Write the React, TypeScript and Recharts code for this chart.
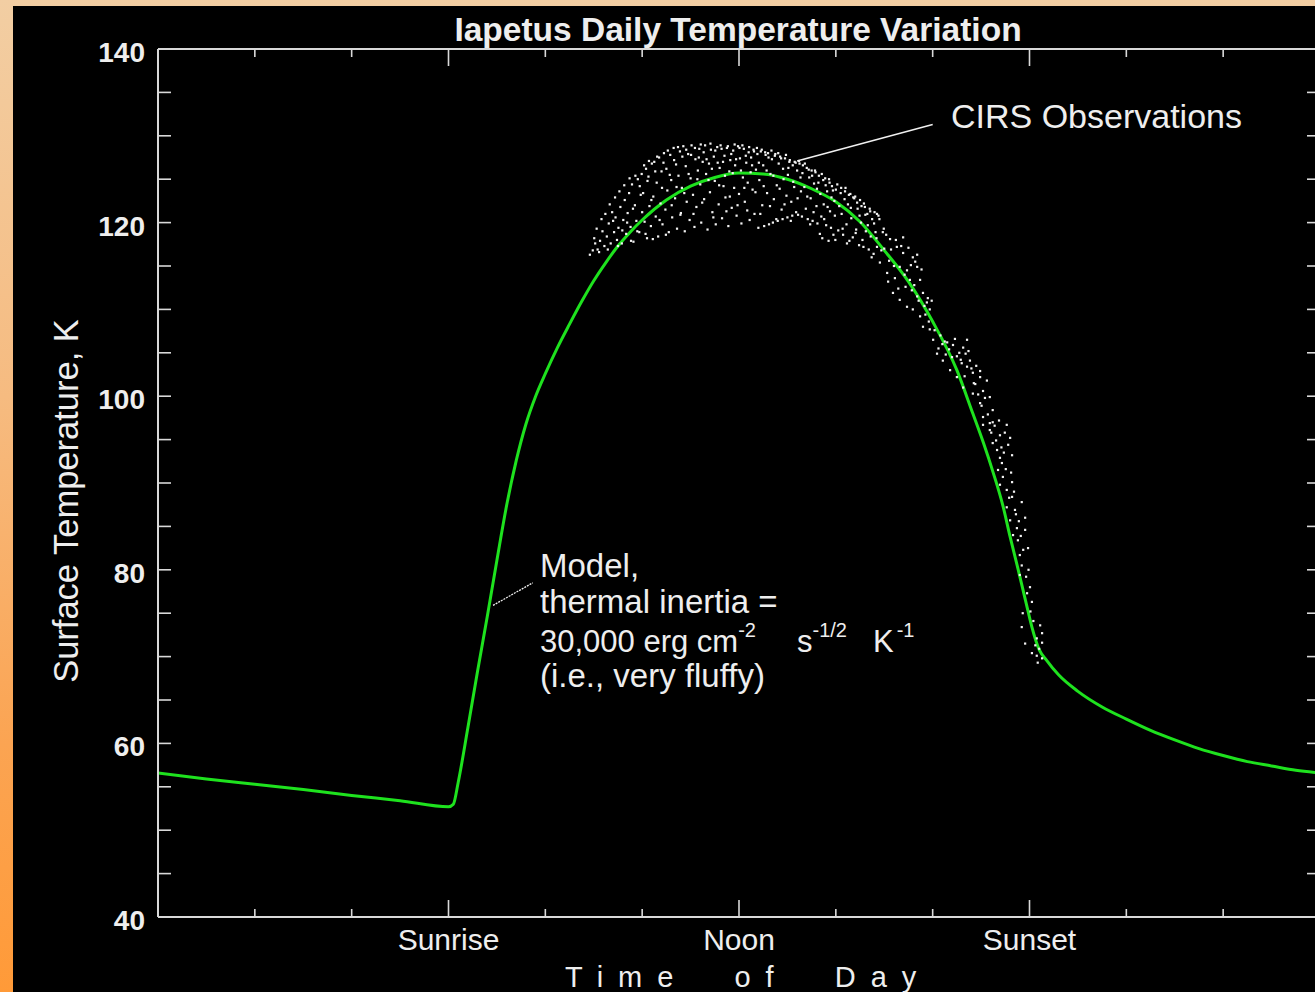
import { ComposedChart, Line, Scatter, XAxis, YAxis, ReferenceLine } from "recharts";

// model curve (thermal inertia 30,000), hour of day -> K
const modelHours = [
  0, 1, 2, 3, 4, 5, 6, 6.1, 6.2, 6.4, 6.6, 6.8, 7, 7.2, 7.4, 7.6, 7.8, 8, 8.25, 8.5, 8.75, 9, 9.25, 9.5,
  9.75, 10, 10.5, 11, 11.5, 12, 12.5, 13, 13.5, 14, 14.5, 15, 15.5, 16, 16.5, 16.83, 17.05, 17.25, 17.45,
  17.6, 17.75, 17.95, 18.05, 18.2, 18.35, 18.6, 19, 19.5, 20, 20.5, 21, 21.5, 22, 22.5, 23, 23.5, 24,
];
const modelTemps = [
  56.6, 55.9, 55.3, 54.7, 54.0, 53.4, 52.7, 53.0, 55.5, 61.8, 68.3, 74.6, 81.1, 87.4, 92.6, 96.8, 100.0,
  102.6, 105.6, 108.3, 110.9, 113.3, 115.4, 117.3, 118.9, 120.3, 122.6, 124.2, 125.2, 125.7, 125.6, 125.0,
  123.9, 122.4, 120.1, 116.8, 113.2, 108.6, 103.0, 98.0, 94.6, 91.2, 87.4, 83.8, 80.4, 75.7, 73.4, 70.8,
  69.6, 67.9, 66.0, 64.2, 62.8, 61.5, 60.4, 59.4, 58.6, 57.9, 57.4, 56.9, 56.6,
];

// CIRS observations [hour, K]
const cirsObs: [number, number][] = [
  [8.92, 116.3], [8.98, 116.8], [9.03, 117.6], [9.08, 116.9], [9.13, 117.9], [9.18, 119.0], [9.22, 117.3],
  [9.27, 118.4], [9.31, 119.9], [9.35, 117.6], [9.38, 121.2], [9.42, 118.9],
  [9.45, 120.6], [9.48, 118.0], [9.51, 119.4], [9.55, 121.8], [9.58, 117.6], [9.61, 120.3], [9.64, 122.6],
  [9.67, 118.7], [9.7, 121.1], [9.73, 123.4], [9.76, 119.5], [9.79, 124.4], [9.82, 117.8], [9.85, 122.0],
  [9.88, 120.2], [9.91, 125.0], [9.94, 118.9], [9.97, 123.2], [9.99, 125.6],
  [10.02, 123.4], [10.05, 120.1], [10.08, 126.2], [10.1, 118.2], [10.13, 125.3], [10.15, 121.9], [10.18, 119.6],
  [10.2, 126.8], [10.23, 123.0], [10.25, 127.0], [10.28, 120.7], [10.3, 124.6], [10.33, 118.4], [10.35, 127.5],
  [10.38, 122.2], [10.4, 125.9], [10.42, 119.8], [10.45, 128.0], [10.48, 121.5], [10.5, 126.2], [10.52, 123.7],
  [10.55, 118.9], [10.58, 127.8], [10.6, 124.9], [10.62, 120.6], [10.65, 128.6], [10.68, 122.8], [10.7, 126.7],
  [10.72, 119.3], [10.75, 125.4], [10.78, 128.2],
  [10.8, 121.1], [10.82, 124.0], [10.85, 128.8], [10.88, 119.0], [10.9, 126.5], [10.92, 122.4], [10.95, 127.9],
  [10.98, 120.3], [11.0, 125.1], [11.02, 128.9], [11.05, 123.2], [11.08, 119.5], [11.1, 127.3], [11.12, 121.8],
  [11.15, 126.0], [11.18, 128.5], [11.2, 124.4], [11.22, 120.0], [11.25, 127.0], [11.28, 122.7], [11.3, 128.9],
  [11.32, 125.6], [11.35, 119.2], [11.38, 126.8], [11.4, 123.5], [11.42, 128.4], [11.45, 121.2], [11.48, 127.6],
  [11.5, 124.8], [11.52, 119.8], [11.55, 128.7], [11.58, 122.1],
  [11.6, 126.3], [11.62, 128.9], [11.65, 120.5], [11.68, 124.2], [11.7, 127.7], [11.72, 122.9], [11.75, 128.6],
  [11.78, 119.6], [11.8, 125.9], [11.82, 127.2], [11.85, 121.7], [11.88, 128.3], [11.9, 124.0], [11.92, 126.6],
  [11.95, 120.8], [11.98, 128.8], [12.0, 123.3], [12.02, 127.4], [12.05, 119.9], [12.08, 125.2], [12.1, 128.5],
  [12.12, 122.4], [12.15, 126.9], [12.18, 124.6], [12.2, 128.1], [12.22, 120.3], [12.25, 127.5], [12.28, 123.8],
  [12.3, 128.4], [12.32, 121.0], [12.35, 126.1], [12.38, 127.9],
  [12.4, 119.4], [12.42, 124.9], [12.45, 128.2], [12.48, 122.0], [12.5, 126.6], [12.52, 119.6], [12.55, 127.8],
  [12.58, 123.4], [12.6, 128.0], [12.62, 119.8], [12.65, 125.6], [12.68, 127.3], [12.7, 120.0], [12.72, 122.7],
  [12.75, 127.9], [12.78, 124.3], [12.8, 120.2], [12.82, 126.8], [12.85, 127.6], [12.88, 121.5], [12.9, 120.4],
  [12.92, 125.0], [12.95, 127.4], [12.98, 123.1], [13.0, 120.6], [13.02, 126.3], [13.05, 127.2], [13.08, 122.4],
  [13.1, 120.8], [13.12, 124.7], [13.15, 127.0], [13.18, 121.2], [13.2, 126.0], [13.22, 120.9], [13.25, 126.8],
  [13.28, 123.6],
  [13.3, 120.7], [13.32, 126.6], [13.35, 124.1], [13.38, 121.6], [13.4, 126.3], [13.42, 120.4], [13.45, 125.2],
  [13.48, 122.8], [13.5, 126.0], [13.52, 120.2], [13.55, 124.5], [13.58, 125.8], [13.6, 121.9], [13.62, 119.9],
  [13.65, 125.4], [13.68, 123.3], [13.7, 120.7], [13.72, 118.2], [13.74, 124.9], [13.75, 122.1], [13.78, 125.1],
  [13.8, 119.7], [13.82, 123.6], [13.85, 117.9], [13.87, 124.6], [13.88, 121.3], [13.9, 119.4], [13.92, 124.2],
  [13.95, 118.6], [13.97, 122.5], [13.98, 120.8], [14.0, 123.8], [14.05, 119.1],
  [14.1, 123.4], [14.12, 121.0], [14.15, 118.6], [14.18, 122.7], [14.2, 124.0], [14.22, 119.8], [14.25, 122.1],
  [14.28, 117.9], [14.3, 123.3], [14.32, 120.5], [14.35, 118.3], [14.38, 122.8], [14.4, 123.0], [14.42, 119.2],
  [14.45, 121.6], [14.48, 117.4], [14.5, 122.6], [14.52, 120.0], [14.55, 118.0], [14.58, 122.2], [14.6, 121.8],
  [14.62, 119.0], [14.65, 121.0], [14.68, 116.9], [14.7, 121.6], [14.72, 118.4], [14.75, 120.4], [14.78, 116.4],
  [14.8, 121.2], [14.82, 118.9], [14.85, 117.2], [14.88, 120.8],
  [14.85, 121.0], [14.91, 115.4], [14.97, 118.9], [15.0, 117.0], [15.06, 114.2], [15.1, 115.6], [15.12, 118.1],
  [15.18, 111.9], [15.22, 113.6], [15.26, 117.2], [15.32, 114.9], [15.32, 111.1], [15.39, 116.5], [15.39, 118.3],
  [15.44, 112.6], [15.47, 114.5], [15.47, 110.3], [15.53, 113.4], [15.55, 115.1], [15.59, 116.0], [15.59, 110.0],
  [15.62, 112.8], [15.68, 114.9], [15.68, 111.5], [15.68, 116.3], [15.74, 113.4], [15.74, 109.2], [15.8, 111.9],
  [15.8, 108.0], [15.85, 109.4], [15.88, 110.8], [15.9, 111.3], [15.94, 110.0], [15.94, 107.7], [16.01, 106.5],
  [16.09, 104.9], [16.2, 106.0], [16.21, 104.1], [16.25, 106.3], [16.3, 106.2], [16.36, 103.0], [16.4, 104.5],
  [16.42, 105.9], [16.5, 104.6], [16.5, 102.2], [16.55, 105.0], [16.6, 103.8], [16.63, 105.6], [16.63, 101.0],
  [16.68, 104.9], [16.71, 106.5], [16.71, 103.4], [16.77, 104.1], [16.83, 102.7], [16.83, 100.3], [16.85, 101.5],
  [16.9, 103.5], [16.98, 102.9], [16.98, 102.2], [16.98, 99.2], [17.04, 100.6], [17.04, 97.6], [17.12, 101.8],
  [17.18, 99.9], [17.18, 96.9], [17.24, 98.4],
  [17.04, 96.7], [17.24, 97.0], [17.18, 96.1], [17.53, 96.7], [17.39, 95.5], [17.49, 95.8], [17.6, 95.2],
  [17.24, 94.6], [17.33, 93.8], [17.64, 93.2], [17.39, 92.9], [17.43, 92.3], [17.35, 91.5], [17.45, 90.7],
  [17.64, 90.1], [17.39, 89.8], [17.53, 89.2], [17.64, 88.4], [17.84, 87.8], [17.53, 87.2], [17.7, 86.9],
  [17.91, 86.0], [17.6, 85.7], [17.74, 84.8], [17.91, 84.6], [17.66, 84.0], [17.76, 83.4], [17.97, 82.5],
  [17.8, 81.7], [17.84, 80.5], [17.8, 79.4], [18.01, 78.0], [17.95, 77.3], [18.05, 76.3], [17.86, 75.0],
  [17.84, 73.4], [18.22, 73.6], [18.26, 72.7], [18.15, 72.1], [17.91, 71.5], [18.26, 71.6], [18.05, 70.4],
  [18.15, 70.1], [18.26, 69.8], [18.17, 69.3],
  // second pass over the dense parts
  [9.01, 118.2], [9.06, 119.3], [9.11, 116.6], [9.16, 120.4], [9.24, 121.0], [9.29, 116.9], [9.33, 122.1],
  [9.4, 120.2], [9.44, 122.9], [9.5, 117.3], [9.53, 123.6], [9.59, 119.1], [9.63, 124.3], [9.69, 120.0],
  [9.74, 125.1], [9.77, 117.9], [9.81, 121.6], [9.86, 125.4], [9.9, 119.0], [9.95, 124.2], [10.0, 121.2],
  [10.04, 126.6], [10.07, 118.7], [10.11, 124.8], [10.14, 127.1], [10.19, 122.6], [10.22, 118.1], [10.27, 125.9],
  [10.31, 127.6], [10.36, 120.3], [10.41, 124.0], [10.44, 126.9], [10.49, 118.6], [10.53, 128.3], [10.57, 125.5],
  [10.61, 122.0], [10.66, 127.2], [10.71, 124.1], [10.74, 128.7], [10.79, 120.9],
  [10.83, 127.6], [10.87, 123.4], [10.91, 128.4], [10.96, 125.6], [11.01, 127.8], [11.06, 121.0], [11.09, 128.6],
  [11.14, 125.0], [11.17, 127.5], [11.21, 129.0], [11.24, 122.3], [11.27, 128.1], [11.33, 127.3], [11.37, 124.9],
  [11.41, 129.1], [11.44, 126.2], [11.47, 120.6], [11.51, 128.3], [11.56, 126.9], [11.59, 124.3], [11.64, 128.5],
  [11.67, 127.0], [11.71, 125.4], [11.74, 121.3], [11.77, 128.8], [11.81, 123.0], [11.84, 127.9], [11.87, 125.7],
  [11.91, 129.0], [11.94, 127.3], [11.97, 122.0], [12.01, 128.6], [12.04, 126.0], [12.07, 128.9], [12.11, 124.0],
  [12.14, 127.7], [12.17, 121.4], [12.21, 128.7], [12.24, 125.8], [12.27, 126.6], [12.31, 128.2], [12.34, 123.5],
  [12.37, 128.6], [12.41, 126.9], [12.44, 121.0], [12.47, 128.4], [12.51, 124.2], [12.54, 128.1], [12.57, 126.0],
  [12.61, 127.5], [12.64, 121.9], [12.67, 128.3], [12.71, 125.4], [12.74, 127.7], [12.77, 120.4], [12.81, 128.0],
  [12.84, 123.9], [12.87, 127.4], [12.91, 126.2], [12.94, 122.1], [12.97, 127.8], [13.01, 125.5], [13.04, 127.0],
  [13.07, 120.2], [13.11, 126.6], [13.14, 124.1], [13.17, 126.9], [13.21, 122.8], [13.24, 127.1], [13.27, 125.2],
  [13.31, 125.7], [13.36, 126.8], [13.41, 123.0], [13.44, 126.1], [13.47, 119.8], [13.51, 125.4], [13.54, 121.2],
  [13.57, 126.0], [13.61, 123.9], [13.64, 124.6], [13.67, 118.7], [13.71, 125.6], [13.76, 120.4], [13.79, 124.3],
  [13.83, 121.8], [13.86, 125.0], [13.91, 122.9], [13.94, 123.7], [13.99, 118.0], [14.03, 124.4], [14.07, 121.9],
  [14.11, 124.0], [14.14, 119.3], [14.19, 123.6], [14.23, 117.6], [14.27, 123.2], [14.31, 121.7], [14.36, 122.9],
  [14.41, 118.8], [14.44, 122.3], [14.49, 120.8], [14.53, 121.9], [14.57, 117.2], [14.61, 120.9], [14.66, 119.7],
  [14.71, 121.3], [14.74, 116.0], [14.79, 119.9], [14.84, 118.2], [14.9, 120.4], [14.94, 116.8], [14.99, 119.3],
  [15.04, 118.6], [15.08, 113.2], [15.14, 116.9], [15.2, 115.0], [15.24, 118.0], [15.29, 112.4], [15.35, 117.3],
  [15.42, 114.0], [15.5, 117.1], [15.57, 112.2], [15.64, 115.5], [15.71, 111.0], [15.77, 114.6], [15.83, 110.4],
  [15.92, 108.6], [15.98, 111.0], [16.04, 107.6], [16.12, 105.5], [16.16, 107.0],
  [16.27, 104.8], [16.34, 105.4], [16.46, 106.6], [16.58, 104.2], [16.66, 102.3], [16.74, 105.2], [16.8, 103.2],
  [16.88, 101.4], [16.94, 100.2], [17.01, 98.9], [17.08, 99.8], [17.14, 97.9], [17.21, 95.8], [17.28, 96.6],
  [17.31, 94.9], [17.37, 97.2], [17.42, 94.1], [17.47, 93.5], [17.51, 91.6], [17.56, 94.4], [17.58, 88.3],
  [17.62, 91.2], [17.68, 89.0], [17.72, 86.4], [17.78, 85.6], [17.82, 83.9], [17.87, 82.3], [17.93, 79.2],
  [17.98, 80.0], [18.02, 75.2], [18.08, 74.1], [18.12, 71.3], [18.2, 70.9],
];

const xTicks = [0, 2, 4, 6, 8, 10, 12, 14, 16, 18, 20, 22, 24];
const xTickNames: Record<number, string> = { 6: "Sunrise", 12: "Noon", 18: "Sunset" };
const yTicks = [40, 45, 50, 55, 60, 65, 70, 75, 80, 85, 90, 95, 100, 105, 110, 115, 120, 125, 130, 135, 140];
const yLabelTicks = [40, 60, 80, 100, 120, 140];

const modelData = modelHours.map((h, i) => ({ h, t: modelTemps[i] }));
const obsData = cirsObs.map(([h, t]) => ({ h, t }));

const FONT = "'Liberation Sans', Arial, Helvetica, sans-serif";
const AXIS = "#d9d9d9";
const TXT = "#eeeeee";

const BottomTick = ({ x, y, payload }: any) => {
  const name = xTickNames[payload.value];
  return (
    <g>
      <line x1={x} x2={x} y1={y} y2={y - (name ? 17 : 8)} stroke={AXIS} strokeWidth={1.6} />
      {name && (
        <text x={x} y={y + 33} textAnchor="middle" fill={TXT} fontSize={30} fontFamily={FONT}>
          {name}
        </text>
      )}
    </g>
  );
};

const TopTick = ({ x, y, payload }: any) => (
  <line x1={x} x2={x} y1={y} y2={y + (xTickNames[payload.value] ? 17 : 8)} stroke={AXIS} strokeWidth={1.6} />
);

const LeftTick = ({ x, y, payload }: any) => (
  <g>
    <line x1={x} x2={x + 13} y1={y} y2={y} stroke={AXIS} strokeWidth={1.6} />
    {yLabelTicks.includes(payload.value) && (
      <text x={x - 13} y={y + 13} textAnchor="end" fill={TXT} fontSize={28} fontWeight="bold" fontFamily={FONT}>
        {payload.value}
      </text>
    )}
  </g>
);

const RightTick = ({ x, y }: any) => (
  <line x1={x} x2={x - 13} y1={y} y2={y} stroke={AXIS} strokeWidth={1.6} />
);

const Dot = ({ cx, cy }: any) => <rect x={cx - 1.1} y={cy - 1.1} width={2.2} height={2.2} fill="#f2f2f2" />;

export default function App() {
  return (
    <div
      style={{
        position: "fixed",
        left: 0,
        top: 0,
        width: 1315,
        height: 992,
        overflow: "hidden",
        background: "linear-gradient(180deg, #f2cea3 0%, #f6bb80 40%, #fba452 75%, #ff9a38 100%)",
      }}
    >
      <div style={{ position: "absolute", left: 13, top: 6, right: 0, bottom: 0, background: "#000" }} />
      <div style={{ position: "absolute", left: 0, top: 0 }}>
        <ComposedChart width={1340} height={992} margin={{ top: 39, right: 10, bottom: 15, left: 8 }}>
          <XAxis
            xAxisId="b"
            dataKey="h"
            type="number"
            domain={[0, 24]}
            ticks={xTicks}
            interval={0}
            allowDataOverflow
            height={60}
            tickSize={0}
            tickMargin={0}
            tickLine={false}
            axisLine={{ stroke: AXIS, strokeWidth: 2 }}
            tick={(p: any) => <BottomTick {...p} />}
          />
          <XAxis
            xAxisId="t"
            orientation="top"
            dataKey="h"
            type="number"
            domain={[0, 24]}
            ticks={xTicks}
            interval={0}
            allowDataOverflow
            height={10}
            tickSize={0}
            tickMargin={0}
            tickLine={false}
            axisLine={{ stroke: AXIS, strokeWidth: 2 }}
            tick={(p: any) => <TopTick {...p} />}
          />
          <YAxis
            yAxisId="l"
            type="number"
            domain={[40, 140]}
            ticks={yTicks}
            interval={0}
            allowDataOverflow
            width={150}
            tickSize={0}
            tickMargin={0}
            tickLine={false}
            axisLine={{ stroke: AXIS, strokeWidth: 2 }}
            tick={(p: any) => <LeftTick {...p} />}
          />
          <YAxis
            yAxisId="r"
            orientation="right"
            type="number"
            domain={[40, 140]}
            ticks={yTicks}
            interval={0}
            allowDataOverflow
            width={10}
            tickSize={0}
            tickMargin={0}
            tickLine={false}
            axisLine={{ stroke: AXIS, strokeWidth: 2 }}
            tick={(p: any) => <RightTick {...p} />}
          />
          <Scatter
            xAxisId="t"
            yAxisId="r"
            data={obsData}
            dataKey="t"
            shape={(p: any) => <Dot {...p} />}
            isAnimationActive={false}
          />
          <Line
            xAxisId="b"
            yAxisId="l"
            data={modelData}
            dataKey="t"
            type="monotone"
            stroke="#1ee21e"
            strokeWidth={3}
            dot={false}
            isAnimationActive={false}
          />
          <ReferenceLine
            xAxisId="b"
            yAxisId="l"
            segment={[{ x: 13.2, y: 127.1 }, { x: 16.0, y: 131.3 }]}
            stroke="#f0f0f0"
            strokeWidth={1.5}
            ifOverflow="visible"
          />
          <ReferenceLine
            xAxisId="b"
            yAxisId="l"
            segment={[{ x: 6.92, y: 75.9 }, { x: 7.74, y: 78.5 }]}
            stroke="#f0f0f0"
            strokeWidth={1.3}
            strokeDasharray="2 1"
            ifOverflow="visible"
          />
        </ComposedChart>
      </div>
      <svg
        width={1315}
        height={992}
        style={{ position: "absolute", left: 0, top: 0, pointerEvents: "none" }}
        fontFamily={FONT}
        fill={TXT}
      >
        <text x={738} y={41} textAnchor="middle" fontSize={33.5} fontWeight="bold">
          Iapetus Daily Temperature Variation
        </text>
        <text transform="translate(78,501) rotate(-90)" textAnchor="middle" fontSize={34.5}>
          Surface Temperature, K
        </text>
        <text x={565} y={987} fontSize={29} letterSpacing={15} style={{ whiteSpace: "pre" }}>
          {"Time  of  Day"}
        </text>
        <text x={951} y={128} fontSize={34}>
          CIRS Observations
        </text>
        <text x={540} y={577} fontSize={33}>
          Model,
        </text>
        <text x={540} y={613} fontSize={33}>
          thermal inertia =
        </text>
        <text x={540} y={652} fontSize={31}>
          30,000 erg cm
          <tspan fontSize={20} dy={-15}>-2</tspan>
          <tspan x={797} dy={15}>s</tspan>
          <tspan fontSize={20} dy={-15}>-1/2</tspan>
          <tspan x={873} dy={15}>K</tspan>
          <tspan fontSize={20} dx={3} dy={-15}>-1</tspan>
        </text>
        <text x={540} y={687} fontSize={33}>
          (i.e., very fluffy)
        </text>
      </svg>
    </div>
  );
}
